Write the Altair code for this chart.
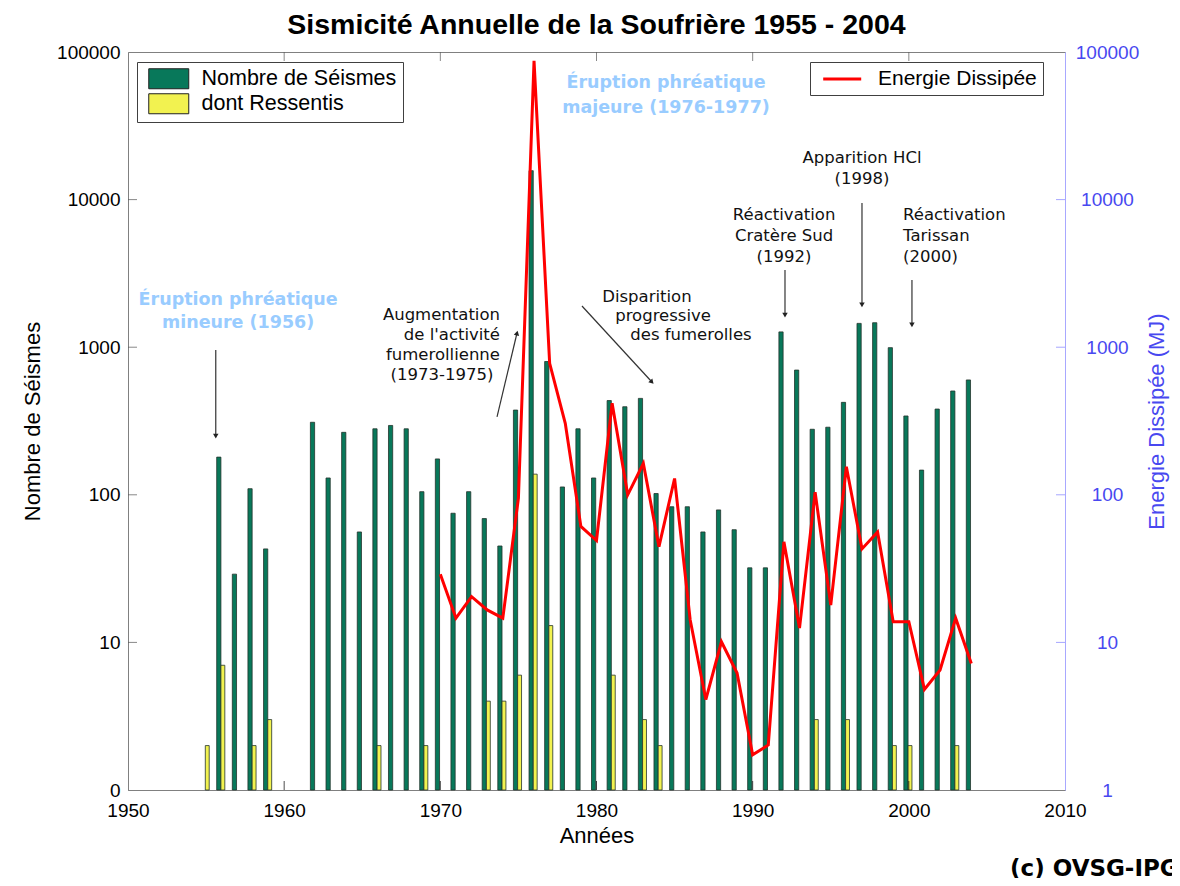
import altair as alt
import pandas as pd

# ---------------- data ----------------
annees = list(range(1955, 2005))
nombre_seismes = [None, 180, 29, 110, 43,
                  None, None, 310, 130, 265, 56, 280, 295, 280, 105,
                  175, 75, 105, 69, 45, 375, 15700, 800, 113, 280,
                  130, 435, 395, 450, 102, 83, 83, 56, 79, 58,
                  32, 32, 1270, 700, 278, 287, 423, 1450, 1465, 993,
                  342, 147, 381, 505, 600]
ressentis = [2, 7, None, 2, 3,
             None, None, None, None, None, None, 2, None, None, 2,
             None, None, None, 4, 4, 6, 138, 13, None, None,
             None, 6, None, 3, 2, None, None, None, None, None,
             None, None, None, None, 3, None, 3, None, None, 2,
             2, None, None, 2, None]
energie_annees = list(range(1970, 2005))
energie = [29, 14.6, 20.4, 16.6, 14.6, 95, 87000, 778, 305, 61,
           49, 417, 100, 163, 44.5, 129, 14.2, 4.1, 10.1, 6.2,
           1.73, 2.02, 48, 12.5, 104, 17.9, 155, 43, 56, 13.8,
           13.8, 4.8, 6.5, 14.6, 7.2]

serie_bars = ["Nombre de Séismes", "dont Ressentis"]
serie_ligne = ["Energie Dissipée"]
x_ticks = [1950, 1960, 1970, 1980, 1990, 2000, 2010]
y_ticks = [1, 10, 100, 1000, 10000, 100000]

# annotations (text, year, value)
notes_bleues = [("Éruption phréatique", 1957.05, 2089), ("mineure (1956)", 1957.05, 1459),
                ("Éruption phréatique", 1984.45, 61660), ("majeure (1976-1977)", 1984.45, 41760)]
notes_droite = [("Augmentation", 1973.82, 1652), ("de l'activité", 1973.82, 1210),
                ("fumerollienne", 1973.82, 885), ("(1973-1975)", 1973.4, 648)]
notes_centre = [("Disparition", 1983.23, 2188), ("progressive", 1984.26, 1627),
                ("des fumerolles", 1986.05, 1210),
                ("Réactivation", 1992.01, 7870), ("Cratère Sud", 1992.01, 5666), ("(1992)", 1992.01, 4084),
                ("Apparition HCl", 1997.0, 19140), ("(1998)", 1997.0, 13800)]
notes_gauche = [("Réactivation", 1999.63, 7870), ("Tarissan", 1999.63, 5666), ("(2000)", 1999.63, 4084)]
fleches = [(1955.62, 957, 1955.62, 250, 180), (1973.63, 337, 1974.91, 1248, 13),
           (1979.07, 1901, 1983.55, 581, 137), (1992.07, 3335, 1992.07, 1652, 180),
           (1997.0, 9484, 1997.0, 1932, 180), (2000.2, 2853, 2000.2, 1414, 180)]
copyright_note = [("(c) OVSG-IPGP", 2006.48, 0.29)]

# ---------------- tables ----------------
rows = []
for a, n, r in zip(annees, nombre_seismes, ressentis):
    if n is not None:
        rows.append({"annee": a, "valeur": n, "serie": serie_bars[0]})
    if r is not None:
        rows.append({"annee": a, "valeur": r, "serie": serie_bars[1]})
bars_df = pd.DataFrame(rows)
energie_df = pd.DataFrame({"annee": energie_annees, "energie": energie, "serie": serie_ligne[0]})


def notes_df(notes):
    return pd.DataFrame(notes, columns=["texte", "annee", "valeur"])


fleches_df = pd.DataFrame(fleches, columns=["x1", "v1", "x2", "v2", "angle"])

xscale = alt.Scale(domain=[1950, 2010], nice=False, zero=False)
yscale = alt.Scale(type="log", domain=[1, 100000], nice=False)

x_axis = alt.Axis(values=x_ticks, format="d", title="Années", labelFlush=False,
                  labelPadding=11, titlePadding=5)
y_axis_left = alt.Axis(values=y_ticks, format="d",
                       labelExpr="datum.value == 1 ? '0' : datum.label",
                       title="Nombre de Séismes", labelPadding=8, titlePadding=12)
y_axis_right = alt.Axis(orient="right", values=y_ticks, format="d",
                        title="Energie Dissipée (MJ)", labelAlign="center",
                        labelPadding=42, titleAngle=270, titlePadding=30,
                        domainColor="#A8A8FF", labelColor="#4848F0", titleColor="#4848F0")


def X(field):
    return alt.X(field, scale=xscale, axis=x_axis)


def Y(field):
    return alt.Y(field, scale=yscale, axis=y_axis_left)


bars = alt.Chart(bars_df).transform_calculate(
    x0="datum.annee + (datum.serie == 'dont Ressentis' ? -0.05 : -0.32)",
    x1="datum.annee + (datum.serie == 'dont Ressentis' ? 0.2 : -0.05)",
    base="1",
).mark_bar(stroke="#23332c", strokeWidth=0.8).encode(
    x=X("x0:Q"),
    x2="x1:Q",
    y=Y("valeur:Q"),
    y2="base:Q",
    fill=alt.Fill("serie:N", scale=alt.Scale(domain=serie_bars, range=["#08785A", "#F2F250"]),
                  legend=alt.Legend(title=None, orient="none", legendX=9, legendY=10,
                                    direction="vertical", strokeColor="#404040",
                                    fillColor="#FFFFFF", padding=6,
                                    symbolType="M-0.5,-1H3.5V1H-0.5Z", symbolSize=400,
                                    symbolStrokeColor="#202020", symbolStrokeWidth=1,
                                    symbolOpacity=1, labelFont="Liberation Sans",
                                    labelFontSize=21.5, labelColor="#000000",
                                    labelOffset=37, rowPadding=0, labelLimit=400)),
)


def ticks_layer(vals, fixed, channel, color, offset):
    df = pd.DataFrame({"t": vals})
    if channel == "x":
        return alt.Chart(df).transform_calculate(f=str(fixed)).mark_tick(
            orient="vertical", size=9, thickness=1, yOffset=offset, color=color
        ).encode(x=X("t:Q"), y=Y("f:Q"))
    return alt.Chart(df).transform_calculate(f=str(fixed)).mark_tick(
        orient="horizontal", size=9, thickness=1, xOffset=offset, color=color
    ).encode(y=Y("t:Q"), x=X("f:Q"))


inner_x = x_ticks[1:-1]
inner_y = y_ticks[1:-1]
ticks = [
    ticks_layer(inner_x, 1, "x", "#000000", -4.5),
    ticks_layer(inner_x, 100000, "x", "#555555", 4.5),
    ticks_layer(inner_y, 1950, "y", "#555555", 4.5),
    ticks_layer(inner_y, 2010, "y", "#8080FF", -4.5),
]

arrows = alt.Chart(fleches_df).mark_rule(color="#333333", strokeWidth=1.2).encode(
    x=X("x1:Q"), x2="x2:Q", y=Y("v1:Q"), y2="v2:Q")
heads = alt.Chart(fleches_df).mark_point(shape="triangle-up", filled=True, size=30,
                                         color="#222222", opacity=1).encode(
    x=X("x2:Q"), y=Y("v2:Q"), angle=alt.Angle("angle:Q", scale=None))


def text_layer(notes, align, color, size, weight, font="DejaVu Sans"):
    return alt.Chart(notes_df(notes)).mark_text(
        align=align, baseline="middle", color=color, fontSize=size,
        fontWeight=weight, font=font
    ).encode(x=X("annee:Q"), y=Y("valeur:Q"), text="texte:N")


texts = [
    text_layer(notes_bleues, "center", "#99CCFF", 17.5, "bold"),
    text_layer(notes_droite, "right", "#111111", 16.5, "normal"),
    text_layer(notes_centre, "center", "#111111", 16.5, "normal"),
    text_layer(notes_gauche, "left", "#111111", 16.5, "normal"),
    text_layer(copyright_note, "left", "#000000", 23, "bold"),
]

left = alt.layer(bars, *ticks, arrows, heads, *texts)

line = alt.Chart(energie_df).mark_line(strokeWidth=3).encode(
    x=X("annee:Q"),
    y=alt.Y("energie:Q", scale=yscale, axis=y_axis_right),
    stroke=alt.Stroke("serie:N", scale=alt.Scale(domain=serie_ligne, range=["#FF0000"]),
                      legend=alt.Legend(title=None, orient="none", legendX=682, legendY=10,
                                        strokeColor="#404040", fillColor="#FFFFFF",
                                        padding=6, symbolType="M-0.4,0H3.6", symbolSize=361,
                                        symbolStrokeWidth=3, labelFont="Liberation Sans",
                                        labelFontSize=21, labelColor="#000000",
                                        labelOffset=40, labelLimit=400)),
)

chart = alt.layer(left, line).resolve_scale(y="independent").properties(
    width=937, height=738,
    title=alt.TitleParams("Sismicité Annuelle de la Soufrière 1955 - 2004",
                          font="Liberation Sans", fontSize=28.5, fontWeight="bold",
                          anchor="middle", offset=3.5, color="#000000"),
    padding={"left": 120, "top": 44, "right": 107, "bottom": 88},
    autosize=alt.AutoSizeParams(type="none"),
    background="#FFFFFF",
).configure_view(stroke="#808080", strokeWidth=1).configure_axis(
    labelFont="Liberation Sans", labelFontSize=19, titleFont="Liberation Sans",
    titleFontSize=22, titleFontWeight="normal", labelColor="#000000",
    titleColor="#000000", domainColor="#808080", domainWidth=1, ticks=False, grid=False,
)

chart.save("out.html", embed_options={"renderer": "svg", "actions": False})
